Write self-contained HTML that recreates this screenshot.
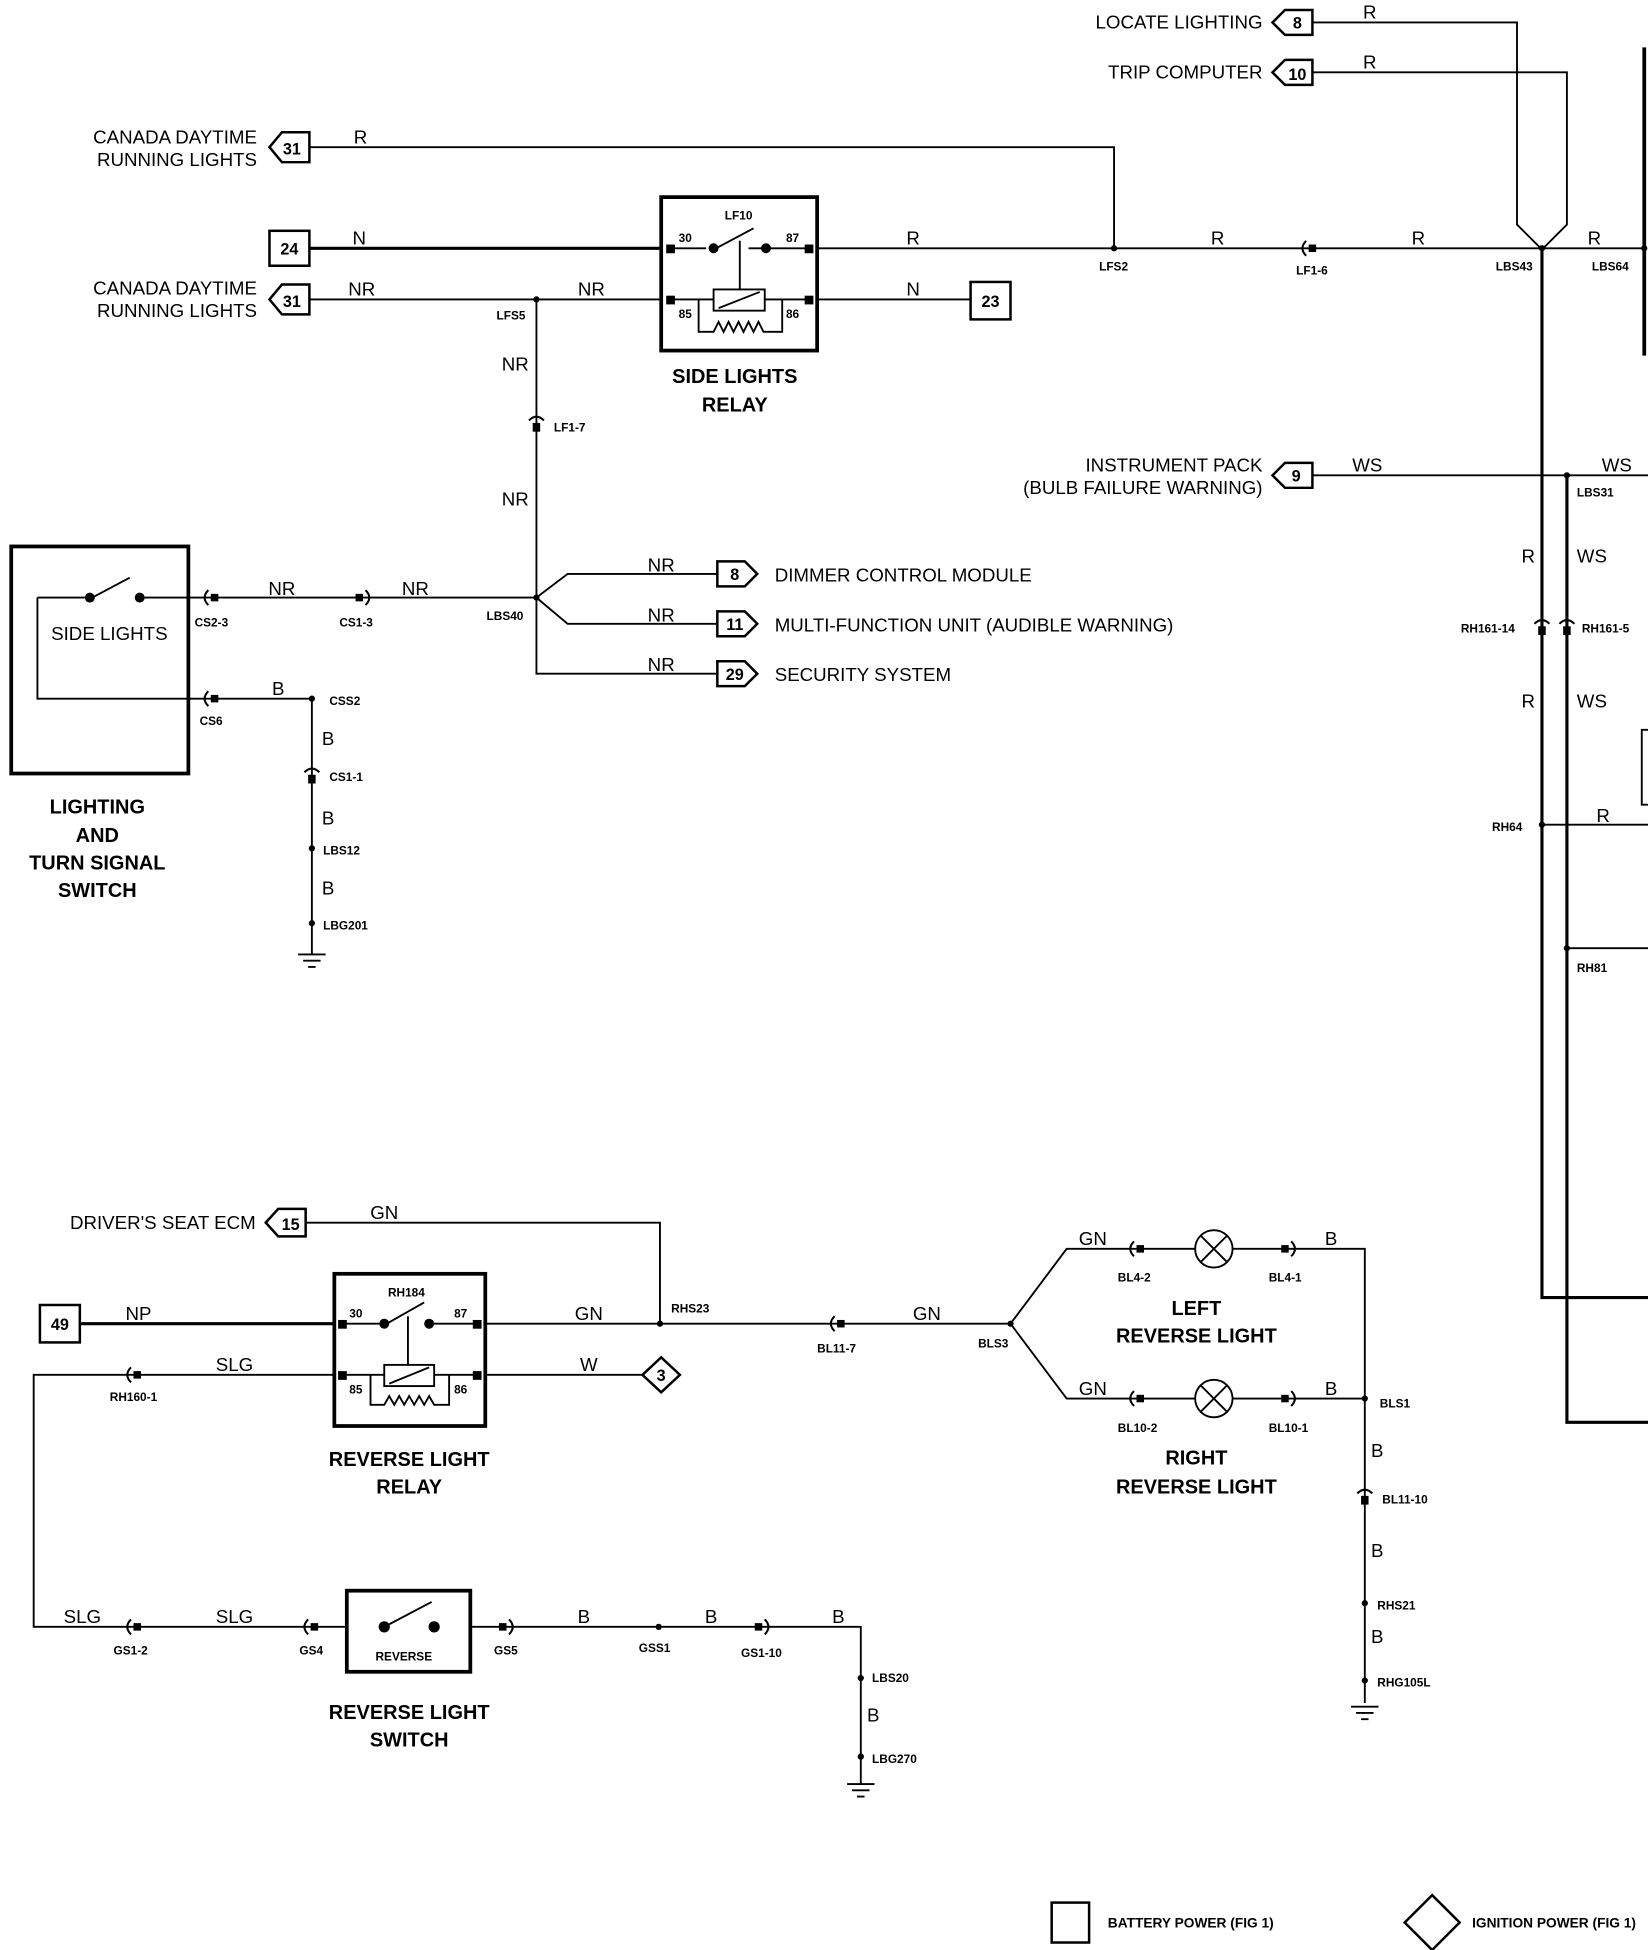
<!DOCTYPE html>
<html><head><meta charset="utf-8"><style>
html,body{margin:0;padding:0;background:#fff;}
svg{display:block;}
text{font-family:"Liberation Sans",sans-serif;fill:#000;}
.w{font-size:15px;}
.t{font-size:15px;}
.s{font-size:9.5px;font-weight:bold;}
.b{font-size:16px;font-weight:bold;}
.n{font-size:13px;font-weight:bold;}
</style></head><body>
<svg width="1648" height="1950" viewBox="0 0 1321 1563" preserveAspectRatio="none" xmlns="http://www.w3.org/2000/svg">
<defs>
<g id="ch"><path d="M-3,-6 Q-9,0 -3,6" fill="none" stroke="#000" stroke-width="1.6"/><rect x="-1" y="-3" width="6" height="6"/></g>
<g id="chr"><path d="M3,-6 Q9,0 3,6" fill="none" stroke="#000" stroke-width="1.6"/><rect x="-5" y="-3" width="6" height="6"/></g>
<g id="cv"><path d="M-6,-3 Q0,-9 6,-3" fill="none" stroke="#000" stroke-width="1.6"/><rect x="-3" y="-1" width="6" height="7"/></g>
<g id="dot"><circle r="2.5"/></g>
<g id="gnd"><path d="M-11,0 H11 M-7,5 H7 M-3,10 H3" stroke="#000" stroke-width="1.5"/></g>
</defs>
<g fill="none" stroke="#000" stroke-width="1.5">
<!-- top right -->
<path d="M1052,18 H1216 V180 L1236,200 L1256,180 V58 H1052"/>
<path d="M1318,38 V285" stroke-width="3"/>
<path d="M248,118 H893 V199"/>
<path d="M248,199 H530" stroke-width="2.5"/>
<rect x="530" y="158" width="125" height="123" stroke-width="3"/>
<path d="M655,199 H1318" />
<path d="M248,240 H530"/>
<path d="M655,240 H778"/>
<path d="M430,240 V540 H575"/>
<path d="M151,479 H430 L455,460 H575 M430,479 L455,500 H575"/>
<rect x="9" y="438" width="142" height="182" stroke-width="3"/>
<path d="M30,479 V560 H250 V765"/>
<path d="M30,479 H68 M112,479 H151"/>
<path d="M74,479 L104,463"/>
<path d="M1052,381 H1321"/>
<path d="M1236,200 V1040 H1321" stroke-width="2.5"/>
<path d="M1256,381 V1140 H1321" stroke-width="2.5"/>
<path d="M1236,661 H1321 M1256,760 H1321"/>
<path d="M1321,585 H1316 V645 H1321"/>
<!-- relay1 internals -->
<path d="M538,199 H566 M600,199 H648 M574,199 L604,183 M593,193 V232 M538,240 H572 M613,240 H648 M560,240 V266 H572 L576,258 L580,266 L584,258 L588,266 L592,258 L596,266 L600,258 L604,266 L608,258 L612,266 H627 V240"/>
<rect x="572" y="232" width="41" height="17"/>
<path d="M576,247 L609,234"/>
<!-- bottom -->
<path d="M245,980 H529 V1061"/>
<path d="M64,1061 H268" stroke-width="2.5"/>
<rect x="268" y="1021" width="121" height="122" stroke-width="3"/>
<path d="M389,1061 H810 L855,1001 H1094 V1365 M810,1061 L855,1121 H1094"/>
<path d="M389,1102 H515"/>
<path d="M268,1102 H27 V1304 H278"/>
<rect x="278" y="1275" width="99" height="65" stroke-width="3"/>
<path d="M377,1304 H690 V1430"/>
<path d="M275,1061 H304 M344,1061 H382 M310,1061 L340,1044 M327,1055 V1094 M275,1102 H308 M348,1102 H382 M297,1102 V1126 H308 L312,1119 L316,1126 L320,1119 L324,1126 L328,1119 L332,1126 L336,1119 L340,1126 L344,1119 L348,1126 H360 V1102"/>
<rect x="308" y="1094" width="40" height="17"/>
<path d="M312,1109 L344,1096"/>
<path d="M308,1304 L346,1284"/>
<circle cx="973" cy="1001" r="15" fill="#fff"/><path d="M962,990 L984,1012 M984,990 L962,1012"/>
<circle cx="973" cy="1121" r="15" fill="#fff"/><path d="M962,1110 L984,1132 M984,1110 L962,1132"/>
<!-- connectors boxes -->
<path d="M1020,18 L1030,8 H1052 V28 H1030 Z" stroke-width="2"/>
<path d="M1020,58 L1030,48 H1052 V68 H1030 Z" stroke-width="2"/>
<path d="M216,118 L226,106 H248 V130 H226 Z" stroke-width="2"/>
<path d="M216,240 L226,228 H248 V252 H226 Z" stroke-width="2"/>
<path d="M1020,381 L1030,371 H1052 V391 H1030 Z" stroke-width="2"/>
<path d="M213,980 L223,969 H245 V991 H223 Z" stroke-width="2"/>
<path d="M575,450 H597 L607,460 L597,470 H575 Z" stroke-width="2"/>
<path d="M575,490 H597 L607,500 L597,510 H575 Z" stroke-width="2"/>
<path d="M575,530 H597 L607,540 L597,550 H575 Z" stroke-width="2"/>
<rect x="216" y="185" width="32" height="28" stroke-width="2"/>
<rect x="778" y="226" width="32" height="30" stroke-width="2"/>
<rect x="32" y="1046" width="32" height="30" stroke-width="2"/>
<path d="M530,1088 L545,1102 L530,1116 L515,1102 Z" stroke-width="2"/>
<rect x="843" y="1525" width="30" height="32" stroke-width="2"/>
<path d="M1148,1519 L1170,1541 L1148,1563 L1126,1541 Z" stroke-width="2"/>
</g>
<!-- pins & dots -->
<g>
<rect x="534" y="196" width="7" height="7"/><rect x="645" y="196" width="7" height="7"/>
<rect x="534" y="237" width="7" height="7"/><rect x="645" y="237" width="7" height="7"/>
<circle cx="572" cy="199" r="4"/><circle cx="614" cy="199" r="4"/>
<rect x="271" y="1058" width="7" height="7"/><rect x="379" y="1058" width="7" height="7"/>
<rect x="271" y="1099" width="7" height="7"/><rect x="379" y="1099" width="7" height="7"/>
<circle cx="308" cy="1061" r="4"/><circle cx="344" cy="1061" r="4"/>
<circle cx="308" cy="1304" r="4.5"/><circle cx="348" cy="1304" r="4.5"/>
<circle cx="72" cy="479" r="4"/><circle cx="112" cy="479" r="4"/>
<use href="#dot" x="893" y="199"/><use href="#dot" x="1236" y="199"/><use href="#dot" x="1318" y="199"/>
<use href="#dot" x="430" y="240"/><use href="#dot" x="430" y="479"/><use href="#dot" x="250" y="560"/>
<use href="#dot" x="250" y="680"/><use href="#dot" x="250" y="740"/>
<use href="#dot" x="1256" y="381"/><use href="#dot" x="1236" y="661"/><use href="#dot" x="1256" y="760"/>
<use href="#dot" x="529" y="1061"/><use href="#dot" x="810" y="1061"/><use href="#dot" x="1094" y="1121"/>
<use href="#dot" x="1094" y="1285"/><use href="#dot" x="1094" y="1347"/><use href="#dot" x="528" y="1304"/>
<use href="#dot" x="690" y="1345"/><use href="#dot" x="690" y="1408"/>
<use href="#ch" x="1050" y="199"/><use href="#cv" x="430" y="340"/>
<use href="#ch" x="170" y="479"/><use href="#chr" x="290" y="479"/><use href="#ch" x="170" y="560"/>
<use href="#cv" x="250" y="622"/><use href="#cv" x="1236" y="503"/><use href="#cv" x="1256" y="503"/>
<use href="#ch" x="672" y="1061"/><use href="#ch" x="912" y="1001"/><use href="#chr" x="1032" y="1001"/>
<use href="#ch" x="912" y="1121"/><use href="#chr" x="1032" y="1121"/><use href="#cv" x="1094" y="1200"/>
<use href="#ch" x="108" y="1102"/><use href="#ch" x="108" y="1304"/><use href="#ch" x="250" y="1304"/>
<use href="#chr" x="405" y="1304"/><use href="#chr" x="610" y="1304"/>
<use href="#gnd" x="250" y="765"/><use href="#gnd" x="1094" y="1368"/><use href="#gnd" x="690" y="1430"/>
</g>
<!-- texts -->
<g class="t" text-anchor="end">
<text x="1012" y="23">LOCATE LIGHTING</text>
<text x="1012" y="63">TRIP COMPUTER</text>
<text x="206" y="115">CANADA DAYTIME</text><text x="206" y="133">RUNNING LIGHTS</text>
<text x="206" y="236">CANADA DAYTIME</text><text x="206" y="254">RUNNING LIGHTS</text>
<text x="1012" y="378">INSTRUMENT PACK</text><text x="1012" y="396">(BULB FAILURE WARNING)</text>
<text x="205" y="985">DRIVER'S SEAT ECM</text>
</g>
<g class="t">
<text x="621" y="466">DIMMER CONTROL MODULE</text>
<text x="621" y="506">MULTI-FUNCTION UNIT (AUDIBLE WARNING)</text>
<text x="621" y="546">SECURITY SYSTEM</text>
<text x="41" y="513">SIDE LIGHTS</text>
</g>
<g class="n" text-anchor="middle">
<text x="1040" y="23">8</text><text x="1040" y="64">10</text><text x="234" y="124">31</text><text x="234" y="246">31</text>
<text x="232" y="204">24</text><text x="794" y="246">23</text><text x="1039" y="386">9</text>
<text x="589" y="465">8</text><text x="589" y="505">11</text><text x="589" y="545">29</text>
<text x="233" y="986">15</text><text x="48" y="1066">49</text><text x="530" y="1107">3</text>
</g>
<g class="w" text-anchor="middle">
<text x="1098" y="15">R</text><text x="1098" y="55">R</text><text x="289" y="115">R</text>
<text x="288" y="196">N</text><text x="290" y="237">NR</text><text x="474" y="237">NR</text>
<text x="732" y="196">R</text><text x="976" y="196">R</text><text x="1137" y="196">R</text><text x="1278" y="196">R</text>
<text x="732" y="237">N</text><text x="413" y="297">NR</text><text x="413" y="405">NR</text>
<text x="226" y="477">NR</text><text x="333" y="477">NR</text>
<text x="530" y="458">NR</text><text x="530" y="498">NR</text><text x="530" y="538">NR</text>
<text x="223" y="557">B</text><text x="263" y="597">B</text><text x="263" y="661">B</text><text x="263" y="717">B</text>
<text x="1096" y="378">WS</text><text x="1296" y="378">WS</text>
<text x="1225" y="451">R</text><text x="1276" y="451">WS</text><text x="1225" y="567">R</text><text x="1276" y="567">WS</text>
<text x="1285" y="659">R</text>
<text x="308" y="977">GN</text><text x="111" y="1058">NP</text><text x="472" y="1058">GN</text><text x="743" y="1058">GN</text>
<text x="188" y="1099">SLG</text><text x="472" y="1099">W</text>
<text x="876" y="998">GN</text><text x="1067" y="998">B</text><text x="876" y="1118">GN</text><text x="1067" y="1118">B</text>
<text x="1104" y="1168">B</text><text x="1104" y="1248">B</text><text x="1104" y="1317">B</text>
<text x="66" y="1301">SLG</text><text x="188" y="1301">SLG</text><text x="468" y="1301">B</text><text x="570" y="1301">B</text><text x="672" y="1301">B</text>
<text x="700" y="1380">B</text>
</g>
<g class="s">
<text x="581" y="176">LF10</text><text x="544" y="194">30</text><text x="630" y="194">87</text>
<text x="544" y="255">85</text><text x="630" y="255">86</text>
<text x="881" y="217">LFS2</text><text x="1039" y="220">LF1-6</text><text x="1199" y="217">LBS43</text><text x="1276" y="217">LBS64</text>
<text x="398" y="256">LFS5</text><text x="444" y="346">LF1-7</text>
<text x="156" y="502">CS2-3</text><text x="272" y="502">CS1-3</text><text x="390" y="497">LBS40</text>
<text x="160" y="581">CS6</text><text x="264" y="565">CSS2</text><text x="264" y="626">CS1-1</text>
<text x="259" y="685">LBS12</text><text x="259" y="745">LBG201</text>
<text x="1264" y="398">LBS31</text><text x="1171" y="507">RH161-14</text><text x="1268" y="507">RH161-5</text>
<text x="1196" y="666">RH64</text><text x="1264" y="779">RH81</text>
<text x="311" y="1039">RH184</text><text x="280" y="1056">30</text><text x="364" y="1056">87</text>
<text x="280" y="1117">85</text><text x="364" y="1117">86</text>
<text x="538" y="1052">RHS23</text><text x="655" y="1084">BL11-7</text><text x="784" y="1080">BLS3</text>
<text x="88" y="1123">RH160-1</text>
<text x="896" y="1027">BL4-2</text><text x="1017" y="1027">BL4-1</text><text x="896" y="1148">BL10-2</text><text x="1017" y="1148">BL10-1</text>
<text x="1106" y="1128">BLS1</text><text x="1108" y="1205">BL11-10</text><text x="1104" y="1290">RHS21</text><text x="1104" y="1352">RHG105L</text>
<text x="91" y="1326">GS1-2</text><text x="240" y="1326">GS4</text><text x="396" y="1326">GS5</text><text x="512" y="1324">GSS1</text><text x="594" y="1328">GS1-10</text>
<text x="699" y="1348">LBS20</text><text x="699" y="1413">LBG270</text>
<text x="301" y="1331">REVERSE</text>
<text x="888" y="1545" style="font-size:11px">BATTERY POWER (FIG 1)</text>
<text x="1180" y="1545" style="font-size:11px">IGNITION POWER (FIG 1)</text>
</g>
<g class="b" text-anchor="middle">
<text x="589" y="307">SIDE LIGHTS</text><text x="589" y="330">RELAY</text>
<text x="78" y="652">LIGHTING</text><text x="78" y="675">AND</text><text x="78" y="697">TURN SIGNAL</text><text x="78" y="719">SWITCH</text>
<text x="959" y="1054">LEFT</text><text x="959" y="1076">REVERSE LIGHT</text>
<text x="959" y="1174">RIGHT</text><text x="959" y="1197">REVERSE LIGHT</text>
<text x="328" y="1175">REVERSE LIGHT</text><text x="328" y="1197">RELAY</text>
<text x="328" y="1378">REVERSE LIGHT</text><text x="328" y="1400">SWITCH</text>
</g>
</svg>
</body></html>
